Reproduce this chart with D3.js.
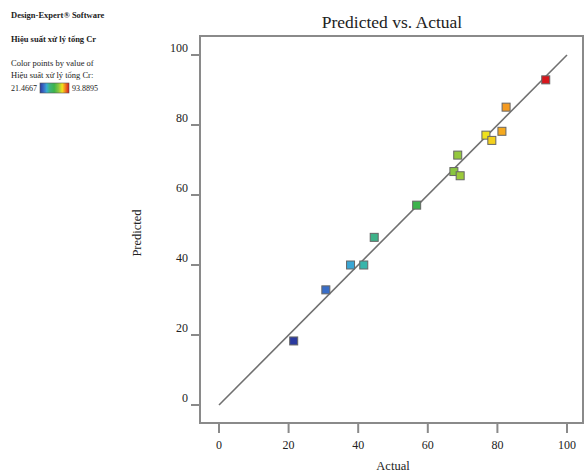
<!DOCTYPE html>
<html><head><meta charset="utf-8">
<script src="https://cdn.jsdelivr.net/npm/d3@7"></script>
<style>body{margin:0;background:#fff}svg{display:block}text{font-family:"Liberation Serif","Times New Roman",serif;fill:#222}</style>
</head><body><svg id="c" width="586" height="475"></svg>
<script>
const actual    = [21.4667, 30.7, 37.8, 41.6, 44.6, 56.8, 67.5, 68.6, 69.3, 76.7, 78.4, 81.3, 82.5, 93.8895];
const predicted = [18.3, 32.9, 40.0, 40.0, 47.9, 57.1, 66.7, 71.4, 65.5, 77.1, 75.6, 78.2, 85.1, 92.9];
const xTicks = [0, 20, 40, 60, 80, 100];
const yTicks = [0, 20, 40, 60, 80, 100];
const colorStops = [21.4667, 31, 38, 42, 45, 57, 68, 77, 82, 93.8895];
const colorRange = ["#2a3a9f", "#3a6fc8", "#3aa8d4", "#38b6a6", "#3fb184", "#3cb44b", "#8dc63f", "#f2e21c", "#f5a020", "#d8161c"];

const svg = d3.select("#c");
const x = d3.scaleLinear().domain([0, 100]).range([219, 567]);
const y = d3.scaleLinear().domain([0, 100]).range([405, 55]);
const color = d3.scaleLinear().domain(colorStops).range(colorRange);

// frame
svg.append("rect").attr("x", 200).attr("y", 36).attr("width", 383).attr("height", 387)
  .attr("fill", "none").attr("stroke", "#8a8a8a").attr("stroke-width", 2);

// y axis
const yAxis = svg.append("g");
yAxis.selectAll("line").data(yTicks).join("line")
  .attr("x1", 191).attr("x2", 200).attr("y1", d => y(d)).attr("y2", d => y(d))
  .attr("stroke", "#8a8a8a").attr("stroke-width", 2);
yAxis.selectAll("text").data(yTicks).join("text")
  .attr("x", 188).attr("y", d => y(d) - 3).attr("text-anchor", "end")
  .attr("font-size", 12).text(d => d);

// x axis
const xAxis = svg.append("g");
xAxis.selectAll("line").data(xTicks).join("line")
  .attr("x1", d => x(d)).attr("x2", d => x(d)).attr("y1", 424).attr("y2", 433)
  .attr("stroke", "#8a8a8a").attr("stroke-width", 2);
xAxis.selectAll("text").data(xTicks).join("text")
  .attr("x", d => x(d)).attr("y", 449).attr("text-anchor", "middle")
  .attr("font-size", 12).text(d => d);

// titles
svg.append("text").attr("x", 392).attr("y", 28).attr("text-anchor", "middle")
  .attr("font-size", 17.5).text("Predicted vs. Actual");
svg.append("text").attr("x", 393).attr("y", 470).attr("text-anchor", "middle")
  .attr("font-size", 12.5).text("Actual");
svg.append("text").attr("transform", "translate(141,233) rotate(-90)").attr("text-anchor", "middle")
  .attr("font-size", 12.5).text("Predicted");

// diagonal
svg.append("line").attr("x1", x(0)).attr("y1", y(0)).attr("x2", x(100)).attr("y2", y(100))
  .attr("stroke", "#707070").attr("stroke-width", 1.6);

// points
const pts = actual.map((a, i) => ({a, p: predicted[i]}));
svg.append("g").selectAll("rect").data(pts).join("rect")
  .attr("x", d => x(d.a) - 4).attr("y", d => y(d.p) - 4)
  .attr("width", 8).attr("height", 8)
  .attr("fill", d => color(d.a)).attr("stroke", "#666").attr("stroke-width", 1);

// left legend
const L = svg.append("g");
L.append("text").attr("x", 11).attr("y", 18).attr("font-size", 8.5).attr("font-weight", "bold").text("Design-Expert® Software");
L.append("text").attr("x", 11).attr("y", 42).attr("font-size", 8.5).attr("font-weight", "bold").text("Hiệu suất xử lý tổng Cr");
L.append("text").attr("x", 11).attr("y", 66).attr("font-size", 8.5).text("Color points by value of");
L.append("text").attr("x", 11).attr("y", 78).attr("font-size", 8.5).text("Hiệu suất xử lý tổng Cr:");
L.append("text").attr("x", 11).attr("y", 91).attr("font-size", 8).text(colorStops[0]);
L.append("text").attr("x", 72).attr("y", 91).attr("font-size", 8).text(colorStops[colorStops.length - 1]);
const grad = svg.append("defs").append("linearGradient").attr("id", "g1");
const gx = d3.scaleLinear().domain([colorStops[0], colorStops[colorStops.length - 1]]).range([0, 100]);
grad.selectAll("stop").data(colorStops).join("stop")
  .attr("offset", d => gx(d) + "%").attr("stop-color", d => color(d));
L.append("rect").attr("x", 40).attr("y", 83).attr("width", 29).attr("height", 10)
  .attr("fill", "url(#g1)").attr("stroke", "#555").attr("stroke-width", 0.6);
</script></body></html>
